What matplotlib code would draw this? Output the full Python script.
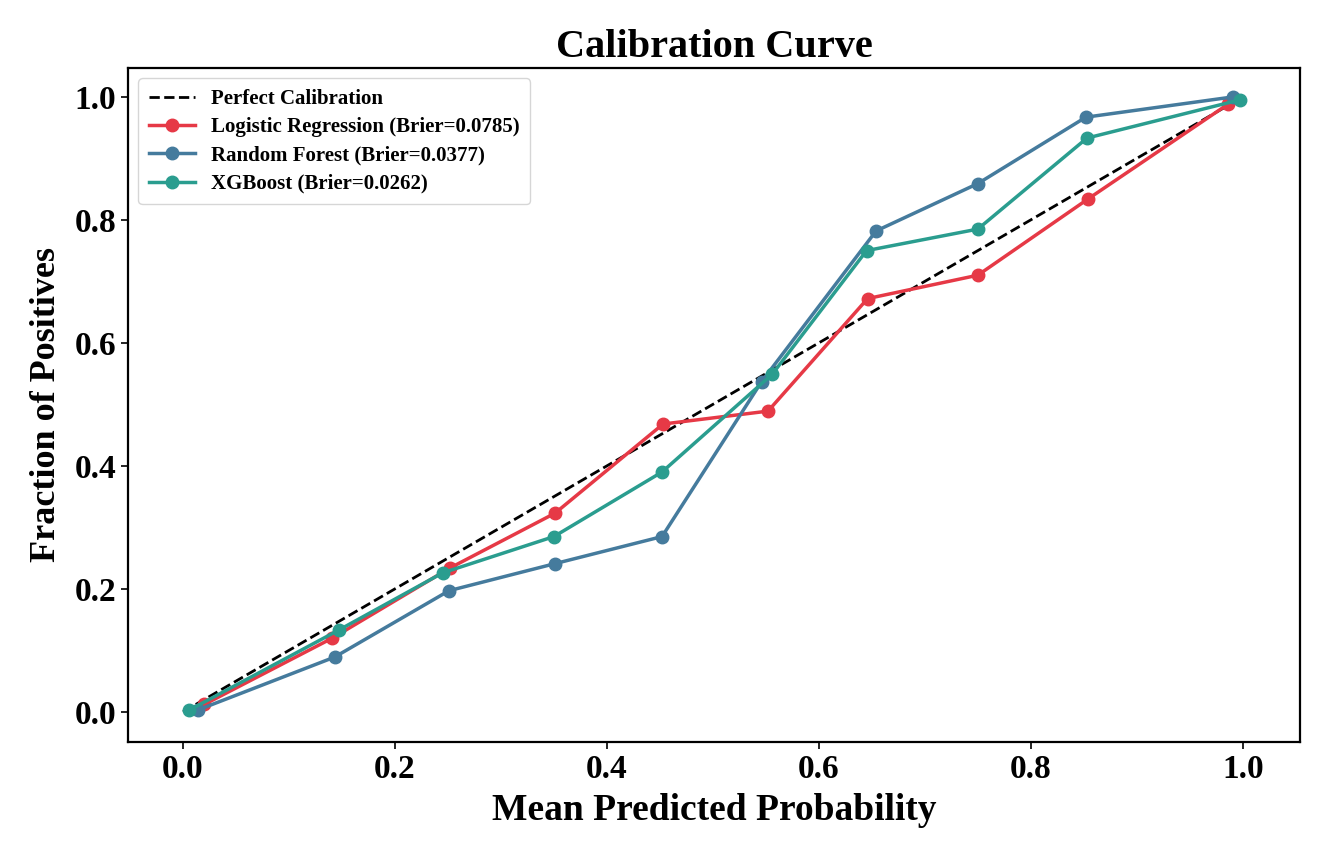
import matplotlib
matplotlib.use("Agg")
import matplotlib.pyplot as plt

# Calibration data
lr_x = [0.02, 0.141, 0.252, 0.351, 0.453, 0.552, 0.646, 0.75, 0.854, 0.986]
lr_y = [0.012, 0.12, 0.234, 0.323, 0.468, 0.489, 0.672, 0.710, 0.834, 0.988]

rf_x = [0.014, 0.143, 0.251, 0.351, 0.452, 0.546, 0.654, 0.75, 0.852, 0.991]
rf_y = [0.003, 0.089, 0.197, 0.241, 0.285, 0.537, 0.782, 0.859, 0.967, 1.0]

xgb_x = [0.006, 0.147, 0.245, 0.35, 0.452, 0.556, 0.645, 0.75, 0.853, 0.997]
xgb_y = [0.003, 0.133, 0.226, 0.285, 0.39, 0.549, 0.75, 0.785, 0.933, 0.995]

labels = ["Logistic Regression (Brier=0.0785)",
          "Random Forest (Brier=0.0377)",
          "XGBoost (Brier=0.0262)"]
colors = ["#E63946", "#457B9D", "#2A9D8F"]

plt.rcParams["font.family"] = ["Liberation Serif", "DejaVu Serif"]
plt.rcParams["font.weight"] = "bold"

fig = plt.figure(figsize=(13.23, 8.55), dpi=100)
ax = fig.add_axes([0.0967, 0.1322, 0.8859, 0.7883])

ax.plot([0, 1], [0, 1], "k--", lw=2, label="Perfect Calibration")
for xs, ys, lab, c in zip([lr_x, rf_x, xgb_x], [lr_y, rf_y, xgb_y], labels, colors):
    ax.plot(xs, ys, "o-", color=c, lw=2.5, ms=9, label=lab)

ax.set_xlim(-0.052, 1.054)
ax.set_ylim(-0.049, 1.047)
ax.set_xticks([0.0, 0.2, 0.4, 0.6, 0.8, 1.0])
ax.set_yticks([0.0, 0.2, 0.4, 0.6, 0.8, 1.0])
ax.tick_params(labelsize=24, width=1.2, length=5)
for lbl in ax.get_xticklabels() + ax.get_yticklabels():
    lbl.set_fontweight("bold")
for sp in ax.spines.values():
    sp.set_linewidth(1.6)

ax.set_xlabel("Mean Predicted Probability", fontsize=27, fontweight="bold", labelpad=6)
ax.set_ylabel("Fraction of Positives", fontsize=26, fontweight="bold", labelpad=8)
ax.set_title("Calibration Curve", fontsize=29, fontweight="bold", pad=8)

leg = ax.legend(loc="upper left", prop={"weight": "bold", "size": 15},
                frameon=True, borderpad=0.5, handlelength=2.2, labelspacing=0.4)

fig.savefig("out.png", dpi=100)
